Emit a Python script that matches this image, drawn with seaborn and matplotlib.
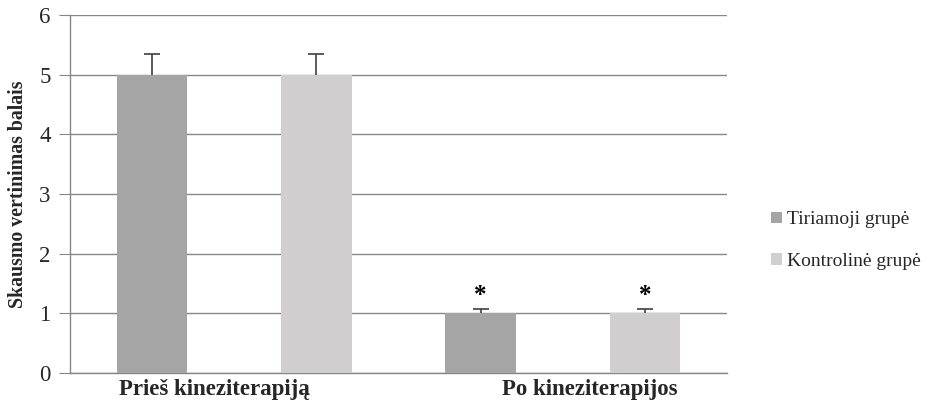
import matplotlib
matplotlib.use("Agg")
import matplotlib.pyplot as plt
import matplotlib.transforms as mtransforms
import seaborn as sns
import pandas as pd

categories = ["Prieš kineziterapiją", "Po kineziterapijos"]
groups = ["Tiriamoji grupė", "Kontrolinė grupė"]
tiriamoji = [5.0, 1.0]
kontroline = [5.0, 1.0]
tiriamoji_err = [0.35, 0.07]
kontroline_err = [0.35, 0.07]
signif = [False, True]

df = pd.DataFrame({
    "cat": categories * 2,
    "grp": [groups[0]] * 2 + [groups[1]] * 2,
    "val": tiriamoji + kontroline,
    "err": tiriamoji_err + kontroline_err,
    "sig": signif * 2,
})

sns.set_style("white")
plt.rcParams["font.family"] = ["Liberation Serif", "DejaVu Serif"]

fig, ax = plt.subplots(figsize=(9.51, 4.04), dpi=100)
fig.subplots_adjust(left=0.0736, right=0.7645, top=0.963, bottom=0.0767)

palette = {groups[0]: "#A5A5A5", groups[1]: "#D0CECE"}
sns.barplot(data=df, x="cat", y="val", hue="grp", hue_order=groups, order=categories,
            palette=palette, width=1.0, gap=0.57, errorbar=None, ax=ax,
            saturation=1, linewidth=0, zorder=3)

# error bars drawn behind the bars so only the upper half shows (Excel style)
for cont, grp in zip(ax.containers, groups):
    sub = df[df.grp == grp].set_index("cat").loc[categories]
    xs = [p.get_x() + p.get_width() / 2 for p in cont.patches]
    ax.errorbar(xs, sub.val.values, yerr=sub.err.values,
                fmt="none", ecolor="#404040", elinewidth=1.2, capsize=6, capthick=1.2, zorder=2.5)
    for x, v, e, s in zip(xs, sub.val.values, sub.err.values, sub.sig.values):
        if s:
            ax.text(x, v + e + 0.03, "*", ha="center", va="bottom", fontsize=18,
                    fontweight="bold", color="black")

ax.set_ylim(0, 6)
ax.set_yticks(range(0, 7))
ax.set_xlim(-0.5, 1.5)
ax.yaxis.grid(True, color="#878787", linewidth=1, zorder=0)
ax.set_axisbelow(True)
for side in ["top", "right"]:
    ax.spines[side].set_visible(False)
for side in ["left", "bottom"]:
    ax.spines[side].set_color("#878787")
    ax.spines[side].set_linewidth(1)
ax.tick_params(axis="y", left=True, length=8, color="#878787", labelsize=16.5, pad=6)
ax.tick_params(axis="x", bottom=False, labelsize=16.5, pad=1)
# category labels sit slightly off-centre in the original
for lbl, dx in zip(ax.get_xticklabels(), [-20, 27]):
    lbl.set_fontweight("bold")
    lbl.set_transform(lbl.get_transform() + mtransforms.ScaledTranslation(dx / 100, 0, fig.dpi_scale_trans))
ax.set_xlabel("")
ax.set_ylabel("Skausmo vertinimas balais", fontsize=14.3, fontweight="bold", labelpad=8)

handles, labels = ax.get_legend_handles_labels()
ax.legend(handles, labels, loc="center left", bbox_to_anchor=(1.055, 0.37), frameon=False,
          fontsize=14, handlelength=0.55, handleheight=0.55, handletextpad=0.3,
          labelspacing=1.25, borderaxespad=0)

plt.savefig("out.png", dpi=100)
